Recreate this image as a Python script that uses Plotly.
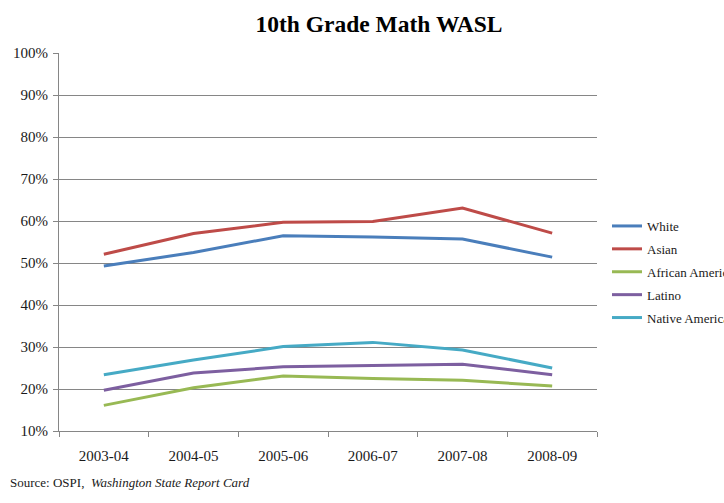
import plotly.graph_objects as go

years = ["2003-04", "2004-05", "2005-06", "2006-07", "2007-08", "2008-09"]
white = [49.3, 52.5, 56.5, 56.2, 55.7, 51.4]
asian = [52.1, 57.0, 59.7, 59.9, 63.1, 57.1]
african_american = [16.1, 20.3, 23.1, 22.5, 22.1, 20.7]
latino = [19.7, 23.8, 25.3, 25.6, 25.9, 23.4]
native_american = [23.4, 26.9, 30.1, 31.1, 29.3, 25.0]

series = [
    ("White", white, "#4A7EBB"),
    ("Asian", asian, "#BE4B48"),
    ("African American", african_american, "#98B954"),
    ("Latino", latino, "#7D5FA0"),
    ("Native American", native_american, "#46AAC5"),
]

FONT = "Liberation Serif"

fig = go.Figure()
for name, vals, color in series:
    fig.add_trace(go.Scatter(
        x=years, y=vals, mode="lines", name=name, legendgroup=name,
        line=dict(color=color, width=3),
    ))

fig.update_layout(
    width=724, height=503,
    margin=dict(l=59, r=127, t=53, b=72, autoexpand=False),
    paper_bgcolor="white", plot_bgcolor="white",
    font=dict(family=FONT, size=13, color="#1a1a1a"),
    title=dict(text="<b>10th Grade Math WASL</b>", x=379 / 724, xanchor="center",
               y=1 - 24 / 503, yanchor="middle",
               font=dict(family=FONT, size=23.5, color="black")),
    showlegend=True,
    legend=dict(x=(607 - 59) / 538, xanchor="left", y=(431 - 211) / 378, yanchor="top",
                font=dict(family=FONT, size=13, color="#1a1a1a"),
                tracegroupgap=3, traceorder="grouped", bgcolor="rgba(0,0,0,0)"),
    xaxis=dict(type="category", range=[-0.5, 5.5], showline=True, linecolor="#868686",
               linewidth=1, showgrid=False,
               ticks="outside", ticklen=5, tickcolor="#868686", tickson="boundaries",
               tickfont=dict(family=FONT, size=15, color="#1a1a1a"),
               ticklabelstandoff=11, automargin=False),
    yaxis=dict(range=[10, 100], dtick=10, ticksuffix="%", showline=True, linecolor="#868686",
               linewidth=1, showgrid=True, gridcolor="#868686", gridwidth=1,
               ticks="outside", ticklen=5, tickcolor="#868686", zeroline=False,
               tickfont=dict(family=FONT, size=15, color="#1a1a1a"), ticklabelstandoff=2,
               automargin=False),
    annotations=[dict(
        text="Source: OSPI,  <i>Washington State Report Card</i>",
        xref="paper", yref="paper", x=-51 / 538, y=-(482 - 431) / 378,
        xanchor="left", yanchor="middle", showarrow=False,
        font=dict(family=FONT, size=13, color="#1a1a1a"),
    )],
)

fig.write_html("out.html")
